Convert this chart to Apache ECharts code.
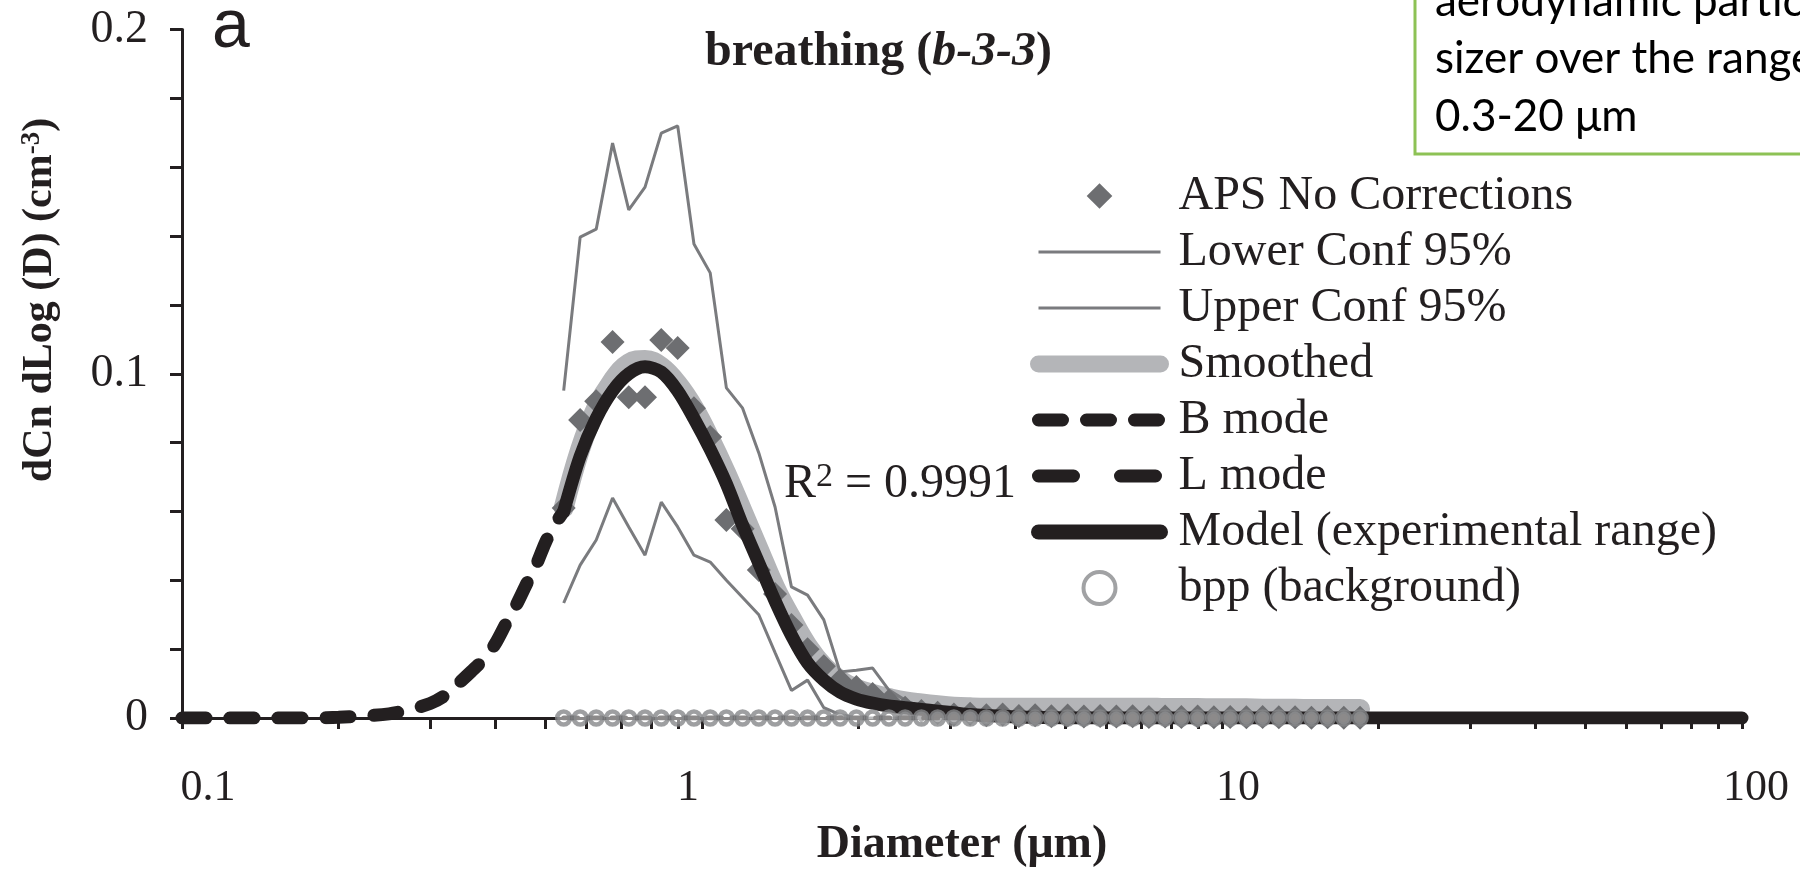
<!DOCTYPE html>
<html><head><meta charset="utf-8">
<script src="https://cdn.jsdelivr.net/npm/echarts@6/dist/echarts.min.js"></script>
<style>html,body{margin:0;padding:0;background:#fff}#c{width:1800px;height:873px}</style>
</head><body><div id="c"></div>
<script>
// ---- data ----
const diameterChannels = [0.542, 0.583, 0.626, 0.673, 0.723, 0.777, 0.835, 0.898, 0.965, 1.037, 1.114, 1.197, 1.286, 1.382, 1.486, 1.596, 1.715, 1.843, 1.981, 2.129, 2.288, 2.458, 2.642, 2.839, 3.051, 3.278, 3.523, 3.786, 4.068, 4.371, 4.698, 5.048, 5.425, 5.829, 6.264, 6.732, 7.234, 7.774, 8.354, 8.977, 9.647, 10.37, 11.14, 11.97, 12.86, 13.82, 14.86, 15.96, 17.15, 18.43];
const apsNoCorrections = [0.061, 0.0866, 0.092, 0.1092, 0.0932, 0.0932, 0.1098, 0.1075, 0.090, 0.0816, 0.0575, 0.055, 0.043, 0.036, 0.027, 0.020, 0.015, 0.011, 0.009, 0.007, 0.005, 0.003, 0.002, 0.0015, 0.001, 0.0012, 0.0008, 0.001, 0.0006, 0.0008, 0.0005, 0.0007, 0.0004, 0.0006, 0.0004, 0.0005, 0.0003, 0.0004, 0.0003, 0.0004, 0.0002, 0.0003, 0.0002, 0.0003, 0.0002, 0.0002, 0.0001, 0.0002, 0.0001, 0.0001];
const lowerConf95 = [0.0334, 0.0444, 0.0517, 0.0639, 0.0555, 0.0473, 0.0627, 0.0555, 0.0473, 0.0453, 0.040, 0.035, 0.030, 0.019, 0.008, 0.011, 0.003, 0.001, 0, 0, 0, 0, 0, 0, 0, 0, 0, 0, 0, 0, 0, 0, 0, 0, 0, 0, 0, 0, 0, 0, 0, 0, 0, 0, 0, 0, 0, 0, 0, 0];
const upperConf95 = [0.0951, 0.1397, 0.1420, 0.1670, 0.1476, 0.1542, 0.1699, 0.1720, 0.1377, 0.1293, 0.0959, 0.0900, 0.0770, 0.0613, 0.0381, 0.0357, 0.0285, 0.0134, 0.0139, 0.0145, 0.0081, 0.0052, 0.0030, 0.0022, 0.0018, 0.0015, 0.0012, 0.0010, 0.0010, 0.0008, 0.0008, 0.0007, 0.0006, 0.0006, 0.0005, 0.0005, 0.0004, 0.0004, 0.0004, 0.0003, 0.0003, 0.0003, 0.0003, 0.0002, 0.0002, 0.0002, 0.0002, 0.0002, 0.0001, 0.0001];
const smoothedValues = [0.061, 0.078, 0.090, 0.098, 0.103, 0.104, 0.102, 0.097, 0.090, 0.081, 0.071, 0.060, 0.049, 0.038, 0.029, 0.021, 0.015, 0.011, 0.0085, 0.007, 0.0058, 0.0048, 0.0042, 0.0037, 0.0033, 0.0031, 0.003, 0.003, 0.003, 0.003, 0.003, 0.003, 0.003, 0.003, 0.003, 0.003, 0.003, 0.0029, 0.0029, 0.0029, 0.0028, 0.0028, 0.0028, 0.0027, 0.0027, 0.0027, 0.0026, 0.0026, 0.0026, 0.0026];
const bppBackground = [0, 0, 0, 0, 0, 0, 0, 0, 0, 0, 0, 0, 0, 0, 0, 0, 0, 0, 0, 0, 0, 0, 0, 0, 0, 0, 0, 0, 0, 0, 0, 0, 0, 0, 0, 0, 0, 0, 0, 0, 0, 0, 0, 0, 0, 0, 0, 0, 0, 0];
const modelDiameters = [0.542, 0.583, 0.626, 0.673, 0.723, 0.777, 0.835, 0.898, 0.965, 1.037, 1.114, 1.197, 1.286, 1.382, 1.486, 1.596, 1.715, 1.843, 1.981, 2.129, 2.288, 2.458, 2.642, 2.839, 3.051, 3.278, 3.523, 3.786, 4.068, 4.371, 4.698, 5.048, 6.264, 8.354, 12.86, 18.43, 25, 40, 60, 100];
const modelValues = [0.060, 0.076, 0.087, 0.095, 0.100, 0.102, 0.1005, 0.095, 0.087, 0.078, 0.068, 0.056, 0.045, 0.034, 0.024, 0.016, 0.011, 0.0075, 0.0055, 0.0043, 0.0035, 0.003, 0.0025, 0.002, 0.0015, 0.001, 0.0007, 0.0005, 0.0003, 0.0002, 0.0001, 0, 0, 0, 0, 0, 0, 0, 0, 0];
const bModeDiameters = [0.1, 0.12, 0.15, 0.18, 0.2, 0.22, 0.25, 0.27, 0.3, 0.32, 0.34, 0.36, 0.38, 0.4, 0.42, 0.44, 0.46, 0.48, 0.5, 0.52, 0.542];
const bModeValues = [0, 0, 0, 0, 0.0002, 0.0005, 0.0012, 0.0022, 0.0042, 0.0065, 0.0100, 0.0135, 0.0170, 0.0215, 0.0275, 0.0330, 0.0390, 0.0445, 0.0510, 0.0560, 0.0600];
const lModeDiameters = [0.542, 1, 2, 5, 10, 20, 50, 100];
const lModeValues = [0, 0, 0, 0, 0, 0, 0, 0];
const xTickValues = [0.1, 0.2, 0.3, 0.4, 0.5, 0.6, 0.7, 0.8, 0.9, 1, 2, 3, 4, 5, 6, 7, 8, 9, 10, 20, 30, 40, 50, 60, 70, 80, 90, 100];
const xLabelValues = [0.1, 1, 10, 100];
const xTickLabels = ['0.1', '1', '10', '100'];
const yLabelValues = [0, 0.1, 0.2];
const yTickLabels = ['0', '0.1', '0.2'];
const seriesNames = ['APS No Corrections', 'Lower Conf 95%', 'Upper Conf 95%', 'Smoothed', 'B mode', 'L mode', 'Model (experimental range)', 'bpp (background)'];

// ---- styles ----
const INK = '#231f20';
const SERIF = '"Liberation Serif", "Times New Roman", serif';
const BOX_FONT = '44px Lato, "Open Sans", sans-serif';
const xLabelPad = [[0, 0, 0, 52], [0, 28, 0, 0], [0, 0, 0, 32], [0, 0, 0, 28]];
const hiddenDot = { color: 'rgba(0,0,0,0)', borderWidth: 0, opacity: 0 };
const pair = (xs, ys) => xs.map((x, i) => [x, ys[i]]);

const xRich = {};
xLabelPad.forEach((p, i) => { xRich['s' + i] = { fontFamily: SERIF, fontSize: 44, color: INK, padding: p }; });

const chart = echarts.init(document.getElementById('c'), null, { renderer: 'canvas' });
chart.setOption({
  animation: false,
  backgroundColor: '#ffffff',
  title: {
    text: '{b|breathing (}{i|b-3-3}{b|)}',
    left: 700, top: 24,
    textStyle: {
      rich: {
        b: { fontFamily: SERIF, fontWeight: 'bold', fontSize: 48, color: INK },
        i: { fontFamily: SERIF, fontWeight: 'bold', fontStyle: 'italic', fontSize: 48, color: INK }
      }
    }
  },
  grid: { left: 182, right: 58, top: 29.5, bottom: 155, containLabel: false },
  legend: {
    orient: 'vertical', left: 1025, top: 167,
    itemWidth: 122, itemHeight: 32, itemGap: 8,
    symbolKeepAspect: true,
    selectedMode: false,
    textStyle: { fontFamily: SERIF, fontSize: 48, lineHeight: 48, color: INK, padding: [0, 0, 0, 13] },
    data: [
      { name: seriesNames[0], itemStyle: { color: '#6d6e71' }, lineStyle: { width: 0, opacity: 0 } },
      { name: seriesNames[1], itemStyle: hiddenDot, lineStyle: { width: 3, color: '#7a7b7e' } },
      { name: seriesNames[2], itemStyle: hiddenDot, lineStyle: { width: 3, color: '#7a7b7e' } },
      { name: seriesNames[3], itemStyle: hiddenDot, lineStyle: { width: 17, color: '#b4b5b8', cap: 'round' } },
      { name: seriesNames[4], itemStyle: hiddenDot, lineStyle: { width: 13, color: INK, cap: 'round', type: [24, 24] } },
      { name: seriesNames[5], itemStyle: hiddenDot, lineStyle: { width: 13, color: INK, cap: 'round', type: [35, 47] } },
      { name: seriesNames[6], itemStyle: hiddenDot, lineStyle: { width: 15, color: INK, cap: 'round' } },
      { name: seriesNames[7], icon: 'circle', itemStyle: { color: '#ffffff', borderColor: '#8a8b8d', borderWidth: 4 } }
    ]
  },
  xAxis: {
    type: 'log', logBase: 10, min: 0.1, max: 100,
    name: 'Diameter (μm)', nameLocation: 'middle', nameGap: 104,
    nameTextStyle: { fontFamily: SERIF, fontWeight: 'bold', fontSize: 46, color: INK },
    axisLine: { show: true, onZero: false, lineStyle: { color: INK, width: 3 } },
    axisTick: { show: true, inside: false, length: 11, customValues: xTickValues, lineStyle: { color: INK, width: 3 } },
    minorTick: { show: false },
    splitLine: { show: false },
    axisLabel: {
      margin: 48,
      formatter: (v) => {
        const i = xLabelValues.findIndex(t => Math.abs(Math.log10(t) - Math.log10(v)) < 1e-6);
        return i < 0 ? '' : '{s' + i + '|' + xTickLabels[i] + '}';
      },
      rich: xRich
    }
  },
  yAxis: {
    type: 'value', min: 0, max: 0.2, interval: 0.02,
    axisLine: { show: true, lineStyle: { color: INK, width: 3 } },
    axisTick: { show: true, inside: false, length: 12, lineStyle: { color: INK, width: 3 } },
    splitLine: { show: false },
    axisLabel: {
      margin: 34, fontFamily: SERIF, fontSize: 46, color: INK,
      formatter: (v) => {
        const i = yLabelValues.findIndex(t => Math.abs(t - v) < 1e-9);
        return i < 0 ? '' : yTickLabels[i];
      }
    }
  },
  series: [
    { name: seriesNames[3], type: 'line', z: 2, symbol: 'none', smooth: 0.4, data: pair(diameterChannels, smoothedValues),
      lineStyle: { width: 20, color: '#b4b5b8', cap: 'round', join: 'round' } },
    { name: seriesNames[1], type: 'line', z: 3, symbol: 'none', data: pair(diameterChannels, lowerConf95),
      lineStyle: { width: 3, color: '#7a7b7e' } },
    { name: seriesNames[2], type: 'line', z: 3, symbol: 'none', data: pair(diameterChannels, upperConf95),
      lineStyle: { width: 3, color: '#7a7b7e' } },
    { name: seriesNames[0], type: 'line', z: 4, symbol: 'diamond', symbolSize: 24, showSymbol: true, showAllSymbol: true,
      data: pair(diameterChannels, apsNoCorrections),
      lineStyle: { width: 0, opacity: 0 }, itemStyle: { color: '#6d6e71', borderWidth: 0 } },
    { name: seriesNames[5], type: 'line', z: 5, symbol: 'none', data: pair(lModeDiameters, lModeValues),
      lineStyle: { width: 5, color: INK, cap: 'round', type: [14, 10] } },
    { name: seriesNames[4], type: 'line', z: 6, symbol: 'none', smooth: 0.3, data: pair(bModeDiameters, bModeValues),
      lineStyle: { width: 13, color: INK, cap: 'round', type: [24, 24] } },
    { name: seriesNames[6], type: 'line', z: 7, symbol: 'none', smooth: 0.3, data: pair(modelDiameters, modelValues),
      lineStyle: { width: 13, color: INK, cap: 'round', join: 'round' } },
    { name: seriesNames[7], type: 'scatter', z: 8, symbol: 'circle', symbolSize: 13, data: pair(diameterChannels, bppBackground),
      itemStyle: { color: 'rgba(255,255,255,0.6)', borderColor: '#86878a', borderWidth: 4.5 } }
  ],
  graphic: [
    { type: 'text', x: 212, y: 28, z: 10,
      style: { text: 'a', font: '68px "Liberation Sans", Arial, sans-serif', fill: INK, align: 'left', verticalAlign: 'middle' } },
    { type: 'text', x: 784, y: 484, z: 10,
      style: { text: '{r|R}{s|2}{r| = 0.9991}', align: 'left', verticalAlign: 'middle',
        rich: { r: { fontFamily: SERIF, fontSize: 48, lineHeight: 48, fill: INK, color: INK },
                s: { fontFamily: SERIF, fontSize: 34, lineHeight: 34, verticalAlign: 'top', fill: INK, color: INK } } } },
    { type: 'text', x: 40, y: 300, rotation: Math.PI / 2, z: 10,
      style: { text: '{t|dCn dLog (D) (cm}{s|-3}{t|)}', align: 'center', verticalAlign: 'middle',
        rich: { t: { fontFamily: SERIF, fontWeight: 'bold', fontSize: 42, lineHeight: 42, fill: INK, color: INK },
                s: { fontFamily: SERIF, fontWeight: 'bold', fontSize: 27, lineHeight: 27, verticalAlign: 'top', fill: INK, color: INK } } } },
    { type: 'rect', z: 20, shape: { x: 1415, y: -20, width: 500, height: 174 },
      style: { fill: '#ffffff', stroke: '#8dc255', lineWidth: 3 } },
    { type: 'text', x: 1435, y: 24, z: 21,
      style: { text: 'aerodynamic particle', font: BOX_FONT, fill: '#000000', align: 'left', verticalAlign: 'bottom' } },
    { type: 'text', x: 1435, y: 81, z: 21,
      style: { text: 'sizer over the range', font: BOX_FONT, fill: '#000000', align: 'left', verticalAlign: 'bottom' } },
    { type: 'text', x: 1435, y: 139, z: 21,
      style: { text: '0.3-20 μm', font: BOX_FONT, fill: '#000000', align: 'left', verticalAlign: 'bottom' } }
  ]
});
</script>
</body></html>
